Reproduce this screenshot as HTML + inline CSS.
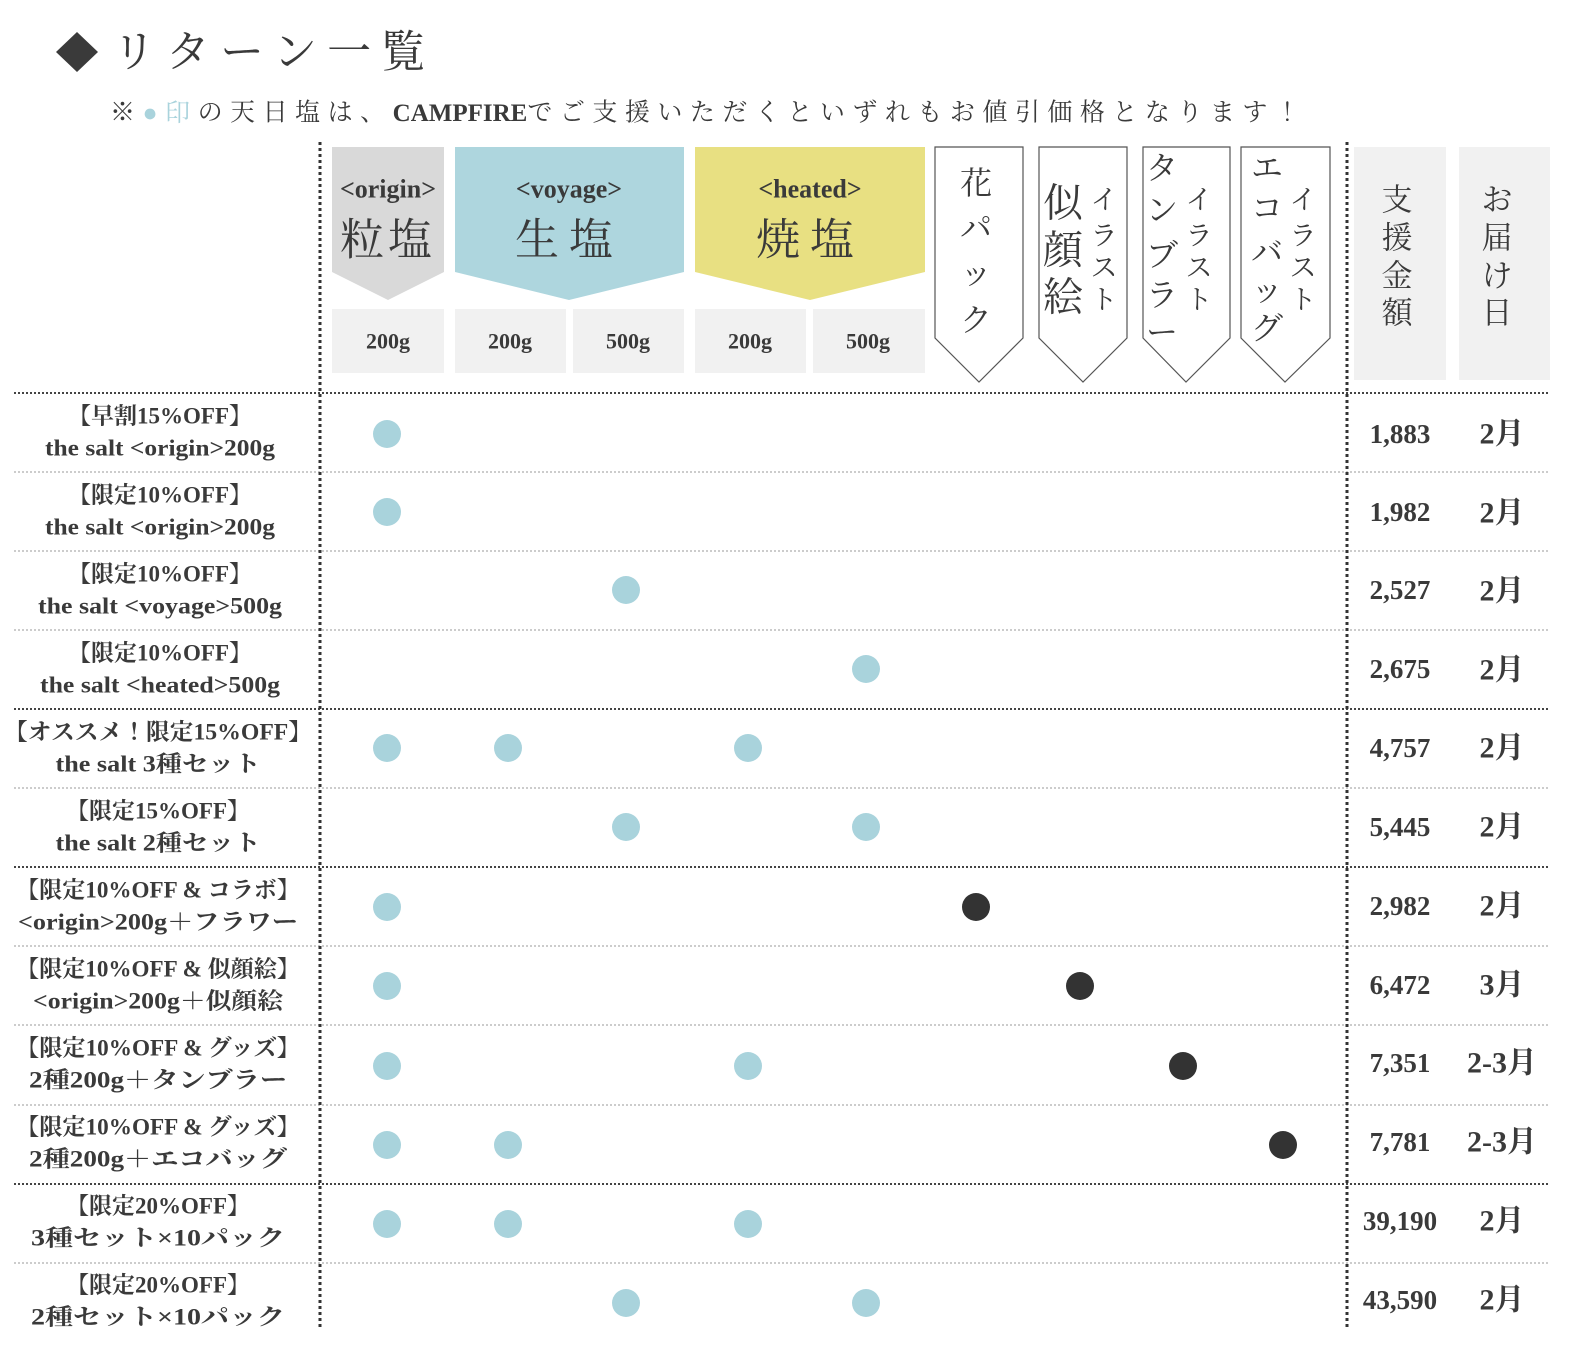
<!DOCTYPE html>
<html><head><meta charset="utf-8"><style>
html,body{margin:0;padding:0;background:#fff;overflow:hidden;width:1587px;height:1361px}
svg{display:block}
text{font-family:"Liberation Serif","Noto Serif CJK JP",serif;fill:#3a3a3a;dominant-baseline:central}
</style></head><body>
<svg width="1587" height="1361" viewBox="0 0 1587 1361" xmlns="http://www.w3.org/2000/svg">
<polygon points="77,32 98,52 77,72 56,52" fill="#3a3a3a"/>
<text x="112" y="52" font-size="44" letter-spacing="10">リターン一覧</text>
<text x="110" y="113" font-size="25" letter-spacing="7.5">※<tspan fill="#a9d3dc">●印</tspan>の天日塩は、<tspan font-weight="bold" letter-spacing="0">CAMPFIRE</tspan>でご支援いただくといずれもお値引価格となります！</text>

<polygon points="332,147 444,147 444,272 388,300 332,272" fill="#d9d9d9"/>
<polygon points="455,147 684,147 684,272 569,300 455,272" fill="#aed6de"/>
<polygon points="695,147 925,147 925,272 810,300 695,272" fill="#e8e082"/>
<text x="388" y="189" font-size="26" text-anchor="middle" font-weight="bold">&lt;origin&gt;</text>
<text x="388" y="240" font-size="44" text-anchor="middle" letter-spacing="4">粒塩</text>
<text x="569" y="189" font-size="26" text-anchor="middle" font-weight="bold">&lt;voyage&gt;</text>
<text x="569" y="240" font-size="44" text-anchor="middle" letter-spacing="10">生塩</text>
<text x="810" y="189" font-size="26" text-anchor="middle" font-weight="bold">&lt;heated&gt;</text>
<text x="810" y="240" font-size="44" text-anchor="middle" letter-spacing="10">焼塩</text>
<g fill="#f1f1f1">
<rect x="332" y="309" width="112" height="64"/><rect x="455" y="309" width="111" height="64"/><rect x="573" y="309" width="111" height="64"/><rect x="695" y="309" width="111" height="64"/><rect x="813" y="309" width="112" height="64"/>
<rect x="1354" y="147" width="92" height="233"/><rect x="1459" y="147" width="91" height="233"/>
</g>
<g font-size="22" text-anchor="middle" font-weight="bold">
<text x="388" y="341">200g</text><text x="510" y="341">200g</text><text x="628" y="341">500g</text><text x="750" y="341">200g</text><text x="868" y="341">500g</text>
</g>
<g fill="#fff" stroke="#555" stroke-width="1.2">
<polygon points="935,147 1023,147 1023,338 979,382 935,338"/>
<polygon points="1039,147 1127,147 1127,338 1083,382 1039,338"/>
<polygon points="1143,147 1230,147 1230,338 1186,382 1143,338"/>
<polygon points="1241,147 1330,147 1330,338 1285,382 1241,338"/>
</g>
<g font-size="32" text-anchor="middle">
<text x="976" y="183">花</text><text x="976" y="228">パ</text><text x="976" y="273">ッ</text><text x="976" y="320">ク</text>
<text x="1063" y="203" font-size="40">似</text><text x="1063" y="250" font-size="40">顔</text><text x="1063" y="297" font-size="40">絵</text>
<text x="1162" y="168">タ</text><text x="1162" y="210">ン</text><text x="1162" y="255">ブ</text><text x="1162" y="295">ラ</text><text x="1162" y="332">ー</text>
<text x="1267" y="168">エ</text><text x="1267" y="208">コ</text><text x="1267" y="252">バ</text><text x="1267" y="290">ッ</text><text x="1267" y="328">グ</text>
</g>
<g font-size="27" text-anchor="middle">
<text x="1104" y="200">イ</text><text x="1104" y="236">ラ</text><text x="1104" y="268">ス</text><text x="1104" y="300">ト</text>
<text x="1199" y="200">イ</text><text x="1199" y="236">ラ</text><text x="1199" y="268">ス</text><text x="1199" y="300">ト</text>
<text x="1303" y="200">イ</text><text x="1303" y="236">ラ</text><text x="1303" y="268">ス</text><text x="1303" y="300">ト</text>
</g>
<g font-size="31" text-anchor="middle">
<text x="1397" y="200">支</text><text x="1397" y="238">援</text><text x="1397" y="276">金</text><text x="1397" y="313">額</text>
<text x="1497" y="200">お</text><text x="1497" y="238">届</text><text x="1497" y="276">け</text><text x="1497" y="313">日</text>
</g>

<g stroke="#bbb" stroke-width="1.5" stroke-dasharray="2,2">
<line x1="14" y1="472" x2="1550" y2="472"/><line x1="14" y1="551" x2="1550" y2="551"/><line x1="14" y1="630" x2="1550" y2="630"/>
<line x1="14" y1="788" x2="1550" y2="788"/><line x1="14" y1="946" x2="1550" y2="946"/><line x1="14" y1="1025" x2="1550" y2="1025"/>
<line x1="14" y1="1105" x2="1550" y2="1105"/><line x1="14" y1="1263" x2="1550" y2="1263"/>
</g>
<g stroke="#444" stroke-width="2" stroke-dasharray="2,2">
<line x1="14" y1="393" x2="1550" y2="393"/><line x1="14" y1="709" x2="1550" y2="709"/><line x1="14" y1="867" x2="1550" y2="867"/><line x1="14" y1="1184" x2="1550" y2="1184"/>
</g>
<g stroke="#333" stroke-width="3" stroke-dasharray="3,3">
<line x1="320" y1="142" x2="320" y2="1330"/><line x1="1347" y1="142" x2="1347" y2="1330"/>
</g>

<g font-size="23" text-anchor="middle" font-weight="bold">
<text x="160" y="416">【早割15%OFF】</text><text x="160" y="448" textLength="230" lengthAdjust="spacingAndGlyphs">the salt &lt;origin&gt;200g</text>
<text x="160" y="495">【限定10%OFF】</text><text x="160" y="527" textLength="230" lengthAdjust="spacingAndGlyphs">the salt &lt;origin&gt;200g</text>
<text x="160" y="574">【限定10%OFF】</text><text x="160" y="606" textLength="244" lengthAdjust="spacingAndGlyphs">the salt &lt;voyage&gt;500g</text>
<text x="160" y="653">【限定10%OFF】</text><text x="160" y="685" textLength="240" lengthAdjust="spacingAndGlyphs">the salt &lt;heated&gt;500g</text>
<text x="158" y="732" textLength="308" lengthAdjust="spacingAndGlyphs">【オススメ！限定15%OFF】</text><text x="158" y="764" textLength="205" lengthAdjust="spacingAndGlyphs">the salt 3種セット</text>
<text x="158" y="811">【限定15%OFF】</text><text x="158" y="843" textLength="205" lengthAdjust="spacingAndGlyphs">the salt 2種セット</text>
<text x="158" y="890" textLength="284" lengthAdjust="spacingAndGlyphs">【限定10%OFF &amp; コラボ】</text><text x="158" y="922" textLength="280" lengthAdjust="spacingAndGlyphs">&lt;origin&gt;200g＋フラワー</text>
<text x="158" y="969" textLength="284" lengthAdjust="spacingAndGlyphs">【限定10%OFF &amp; 似顔絵】</text><text x="158" y="1001" textLength="250" lengthAdjust="spacingAndGlyphs">&lt;origin&gt;200g＋似顔絵</text>
<text x="158" y="1048" textLength="284" lengthAdjust="spacingAndGlyphs">【限定10%OFF &amp; グッズ】</text><text x="158" y="1080" textLength="258" lengthAdjust="spacingAndGlyphs">2種200g＋タンブラー</text>
<text x="158" y="1127" textLength="284" lengthAdjust="spacingAndGlyphs">【限定10%OFF &amp; グッズ】</text><text x="158" y="1159" textLength="258" lengthAdjust="spacingAndGlyphs">2種200g＋エコバッグ</text>
<text x="158" y="1206">【限定20%OFF】</text><text x="158" y="1238" textLength="254" lengthAdjust="spacingAndGlyphs">3種セット×10パック</text>
<text x="158" y="1285">【限定20%OFF】</text><text x="158" y="1317" textLength="254" lengthAdjust="spacingAndGlyphs">2種セット×10パック</text>
</g>

<g fill="#a9d3dc">
<circle cx="387" cy="434" r="14"/>
<circle cx="387" cy="512" r="14"/>
<circle cx="626" cy="590" r="14"/>
<circle cx="866" cy="669" r="14"/>
<circle cx="387" cy="748" r="14"/><circle cx="508" cy="748" r="14"/><circle cx="748" cy="748" r="14"/>
<circle cx="626" cy="827" r="14"/><circle cx="866" cy="827" r="14"/>
<circle cx="387" cy="907" r="14"/>
<circle cx="387" cy="986" r="14"/>
<circle cx="387" cy="1066" r="14"/><circle cx="748" cy="1066" r="14"/>
<circle cx="387" cy="1145" r="14"/><circle cx="508" cy="1145" r="14"/>
<circle cx="387" cy="1224" r="14"/><circle cx="508" cy="1224" r="14"/><circle cx="748" cy="1224" r="14"/>
<circle cx="626" cy="1303" r="14"/><circle cx="866" cy="1303" r="14"/>
</g>
<g fill="#333">
<circle cx="976" cy="907" r="14"/><circle cx="1080" cy="986" r="14"/><circle cx="1183" cy="1066" r="14"/><circle cx="1283" cy="1145" r="14"/>
</g>

<g font-size="27" text-anchor="middle" font-weight="bold">
<text x="1400" y="434">1,883</text><text x="1400" y="512">1,982</text><text x="1400" y="590">2,527</text><text x="1400" y="669">2,675</text>
<text x="1400" y="748">4,757</text><text x="1400" y="827">5,445</text><text x="1400" y="906">2,982</text><text x="1400" y="985">6,472</text>
<text x="1400" y="1063">7,351</text><text x="1400" y="1142">7,781</text><text x="1400" y="1221">39,190</text><text x="1400" y="1300">43,590</text>
</g>
<g font-size="30" text-anchor="middle" font-weight="bold">
<text x="1502" y="434">2月</text><text x="1502" y="513">2月</text><text x="1502" y="591">2月</text><text x="1502" y="670">2月</text>
<text x="1502" y="748">2月</text><text x="1502" y="827">2月</text><text x="1502" y="906">2月</text><text x="1502" y="985">3月</text>
<text x="1502" y="1063">2-3月</text><text x="1502" y="1142">2-3月</text><text x="1502" y="1221">2月</text><text x="1502" y="1300">2月</text>
</g>
</svg>
</body></html>
